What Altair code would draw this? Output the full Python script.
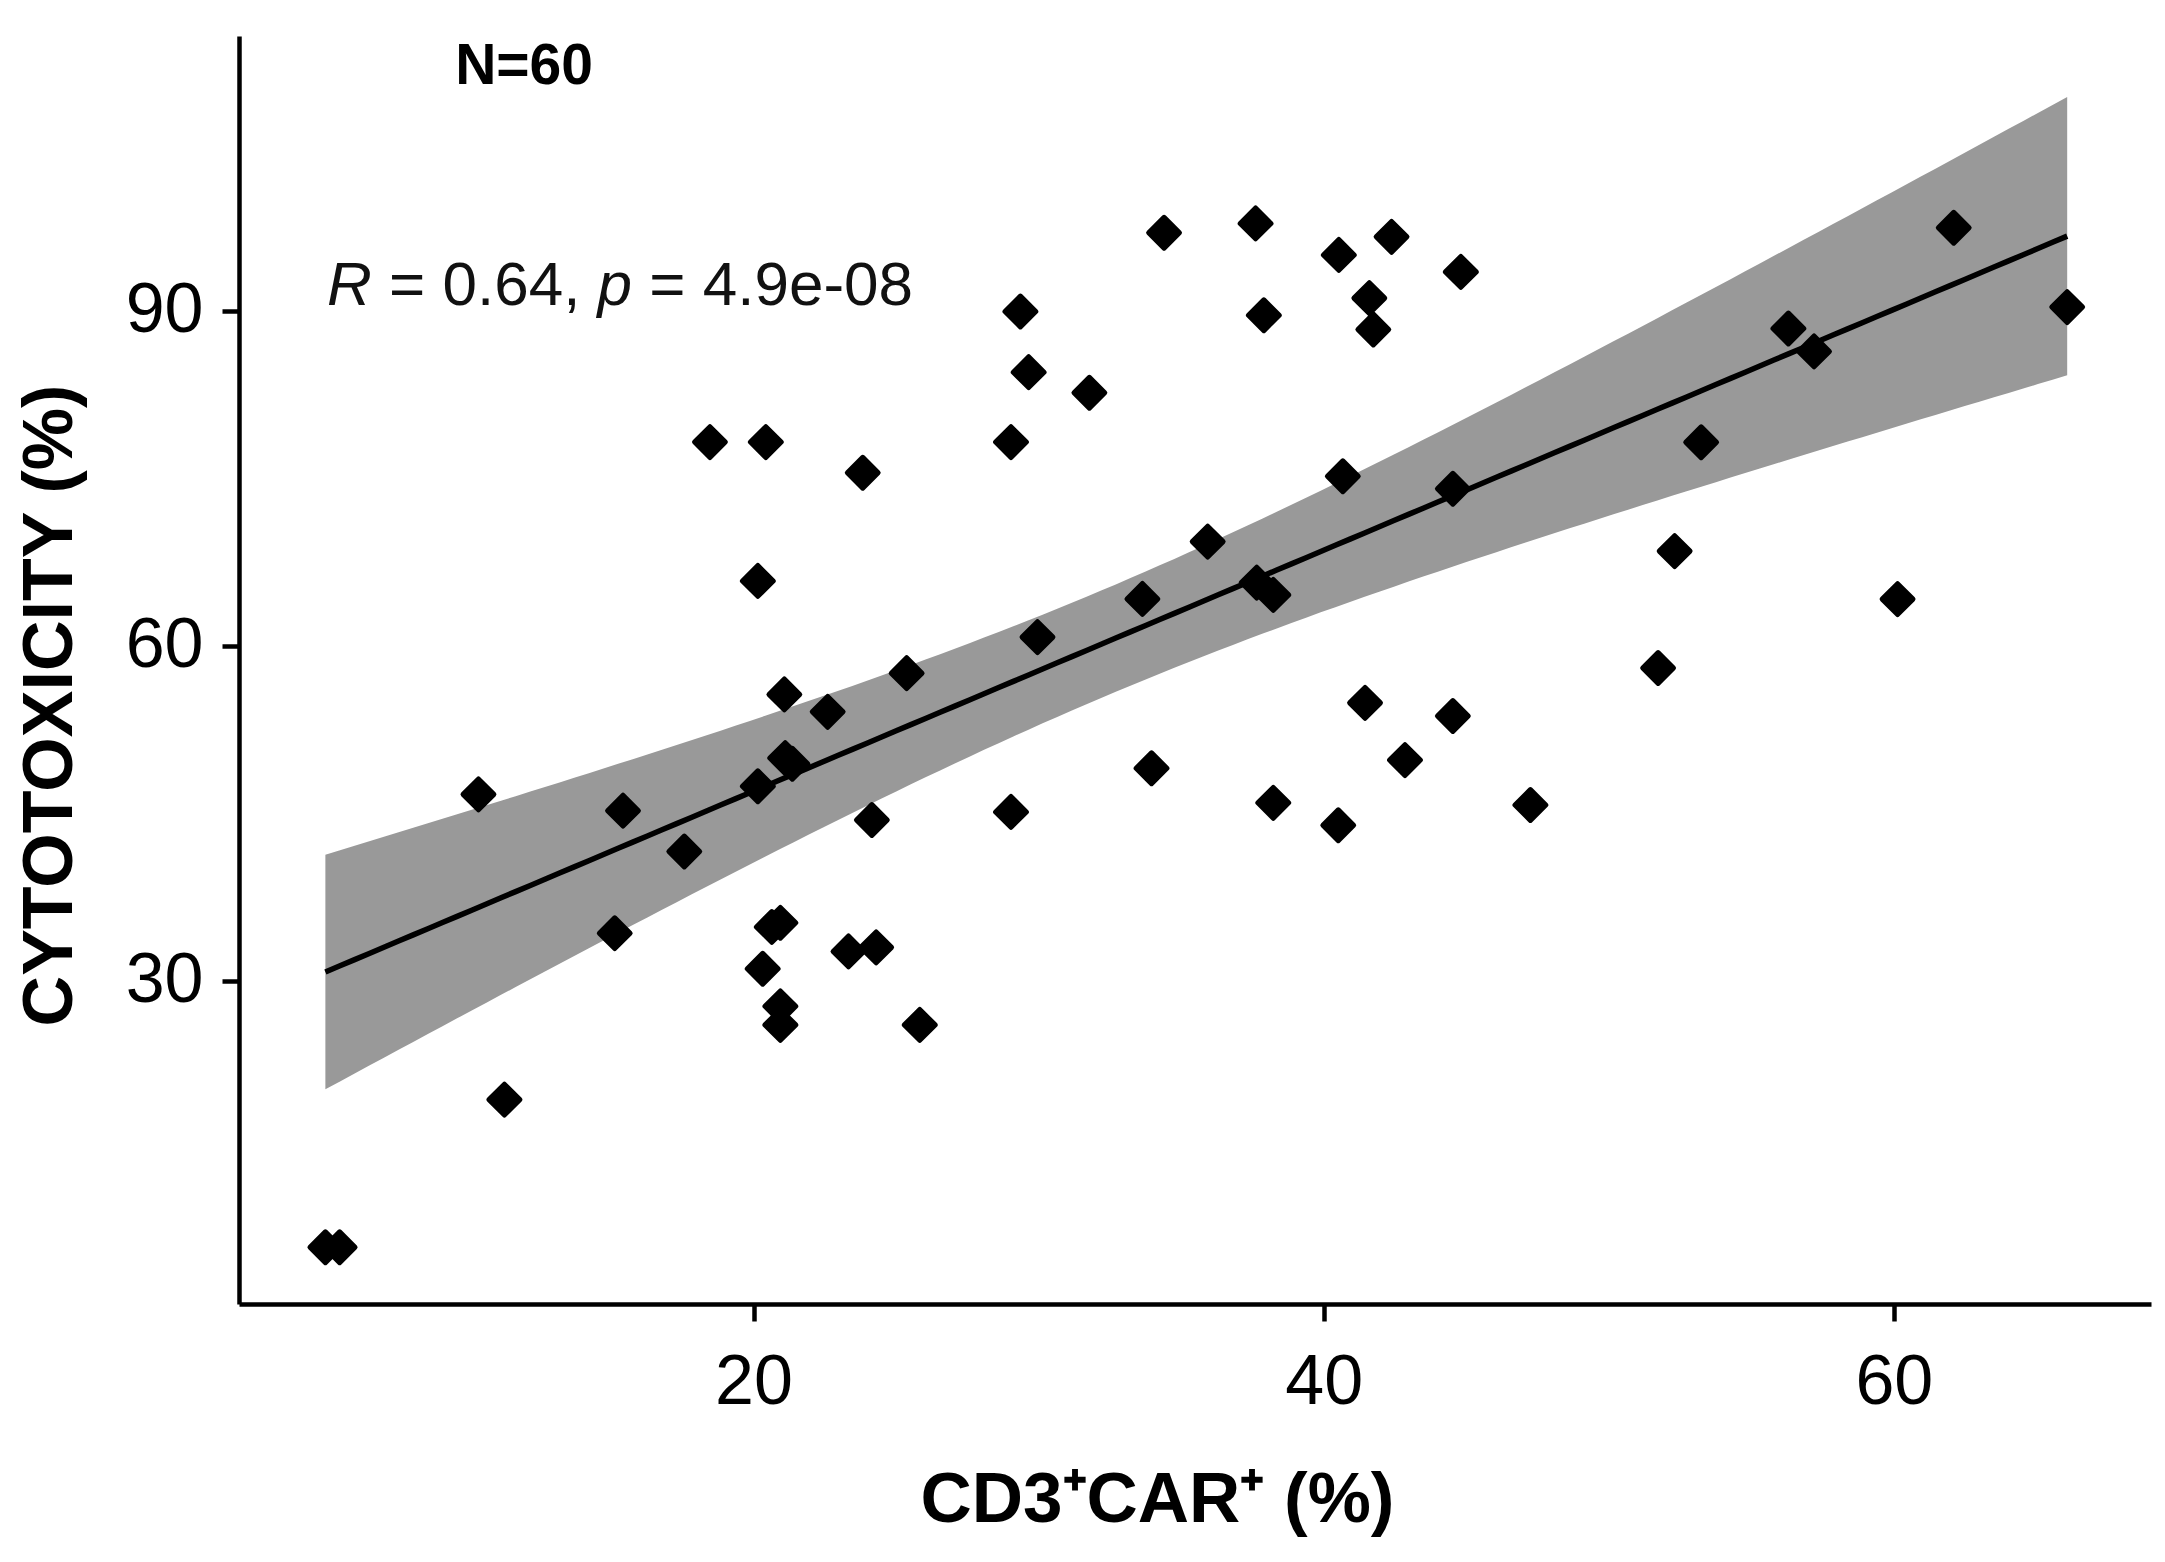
import altair as alt
import pandas as pd
import numpy as np

# ---- data ----
car_pct = [4.98, 5.48, 10.35, 11.26, 15.13, 15.42, 17.57, 18.47, 20.15, 20.15,
           20.32, 20.43, 20.64, 20.94, 20.94, 20.94, 21.08, 21.36, 21.11, 22.60,
           23.33, 23.83, 24.15, 24.30, 25.37, 25.83, 29.03, 29.03, 29.36, 29.65,
           29.96, 31.78, 33.64, 33.96, 34.40, 35.93, 37.61, 37.65, 37.90, 38.23,
           38.23, 40.53, 40.51, 40.67, 41.45, 41.60, 41.74, 42.38, 42.85, 44.53,
           44.53, 44.81, 47.25, 51.73, 52.31, 53.24, 56.30, 57.20, 60.13, 62.10,
           66.08]
cytotox = [6.15, 6.15, 46.70, 19.37, 34.27, 45.24, 41.58, 78.24, 65.81, 47.43,
           31.09, 78.24, 34.83, 35.20, 27.72, 26.06, 55.65, 49.44, 49.95, 54.09,
           32.64, 75.50, 44.40, 33.00, 57.55, 26.06, 78.24, 45.13, 89.93, 84.50,
           60.78, 82.66, 64.20, 49.04, 96.98, 69.33, 97.82, 65.66, 89.60, 64.56,
           45.94, 95.00, 43.93, 75.18, 54.89, 91.13, 88.32, 96.62, 49.77, 74.06,
           53.72, 93.48, 45.75, 58.01, 68.48, 78.23, 88.41, 86.36, 64.18, 97.43,
           90.33]
n_pts = min(len(car_pct), len(cytotox))
car_pct = car_pct[:n_pts]
cytotox = cytotox[:n_pts]

x_ticks = [20, 40, 60]
y_ticks = [30, 60, 90]
x_domain = [1.95, 69.02]
y_domain = [1.07, 114.6]

n_label = "N=60"
stat_parts = ["R", "= 0.64,", "p", "= 4.9e-08"]
x_title = "CD3\u207aCAR\u207a (%)"
y_title = "CYTOTOXICITY (%)"

FONT = "Liberation Sans, Arial, Helvetica, sans-serif"
T975 = 2.0017  # t quantile, 0.975, df = 58

# ---- linear fit with 95% confidence band (computed from the points) ----
xa = np.array(car_pct, dtype=float)
ya = np.array(cytotox, dtype=float)
n = len(xa)
xbar = xa.mean()
sxx = ((xa - xbar) ** 2).sum()
slope = ((xa - xbar) * (ya - ya.mean())).sum() / sxx
icpt = ya.mean() - slope * xbar
resid = ya - (icpt + slope * xa)
s = np.sqrt((resid ** 2).sum() / (n - 2))
grid = np.linspace(xa.min(), xa.max(), 120)
fit = icpt + slope * grid
se = s * np.sqrt(1.0 / n + (grid - xbar) ** 2 / sxx)

pts = pd.DataFrame({"x": xa, "y": ya})
band = pd.DataFrame({"x": grid, "y": fit, "lo": fit - T975 * se, "hi": fit + T975 * se})

xs = alt.Scale(domain=x_domain, nice=False, zero=False)
ys = alt.Scale(domain=y_domain, nice=False, zero=False)

common_axis = dict(
    grid=False,
    domainColor="black", domainWidth=4.5, tickColor="black", tickWidth=4.5, tickSize=17,
    labelFont=FONT, labelFontSize=70, labelColor="black",
    titleFont=FONT, titleFontWeight="bold", titleColor="black",
    titleBaseline="alphabetic", titleAlign="center",
)
x_axis = alt.Axis(values=x_ticks, title=x_title, labelPadding=27, titleFontSize=71,
                  titleX=918, titleY=217, **common_axis)
y_axis = alt.Axis(values=y_ticks, title=y_title, labelPadding=19, titleFontSize=70,
                  titleX=-168, titleY=669, **common_axis)

def X(field):
    return alt.X(field, type="quantitative", scale=xs, axis=x_axis, title=x_title)

def Y(field):
    return alt.Y(field, type="quantitative", scale=ys, axis=y_axis, title=y_title)

band_layer = alt.Chart(band).mark_area(color="#999999", opacity=1).encode(
    x=X("x"), y=Y("lo"), y2="hi:Q",
)
line_layer = alt.Chart(band).mark_line(color="black", strokeWidth=5.5).encode(
    x=X("x"), y=Y("y"),
)
point_layer = alt.Chart(pts).mark_point(
    shape="diamond", filled=True, size=950, color="black", stroke="black",
    strokeWidth=5, strokeJoin="round", opacity=1,
).encode(x=X("x"), y=Y("y"))

n_df = pd.DataFrame({"x": [11.95], "y": [110.3], "t": [n_label]})
n_layer = alt.Chart(n_df).mark_text(
    font=FONT, fontSize=57, fontWeight="bold", color="black",
    align="center", baseline="alphabetic",
).encode(x=X("x"), y=Y("y"), text="t:N")

stat_x, stat_y = 5.04, 90.5
offsets = [0, 62, 270.5, 322.2]
styles = ["italic", "normal", "italic", "normal"]
stat_layers = []
for txt, dx, st in zip(stat_parts, offsets, styles):
    d = pd.DataFrame({"x": [stat_x], "y": [stat_y], "t": [txt]})
    stat_layers.append(
        alt.Chart(d).mark_text(
            font=FONT, fontSize=62, fontStyle=st, color="#111111",
            align="left", baseline="alphabetic", dx=dx,
        ).encode(x=X("x"), y=Y("y"), text="t:N")
    )

chart = alt.layer(band_layer, line_layer, point_layer, n_layer, *stat_layers).properties(
    width=1912, height=1268,
    autosize=alt.AutoSizeParams(type="none"),
    padding={"left": 231, "top": 28, "right": 5, "bottom": 250},
    background="white",
).configure_view(strokeWidth=0)

chart.save("out.html", embed_options={"renderer": "svg", "actions": False})
